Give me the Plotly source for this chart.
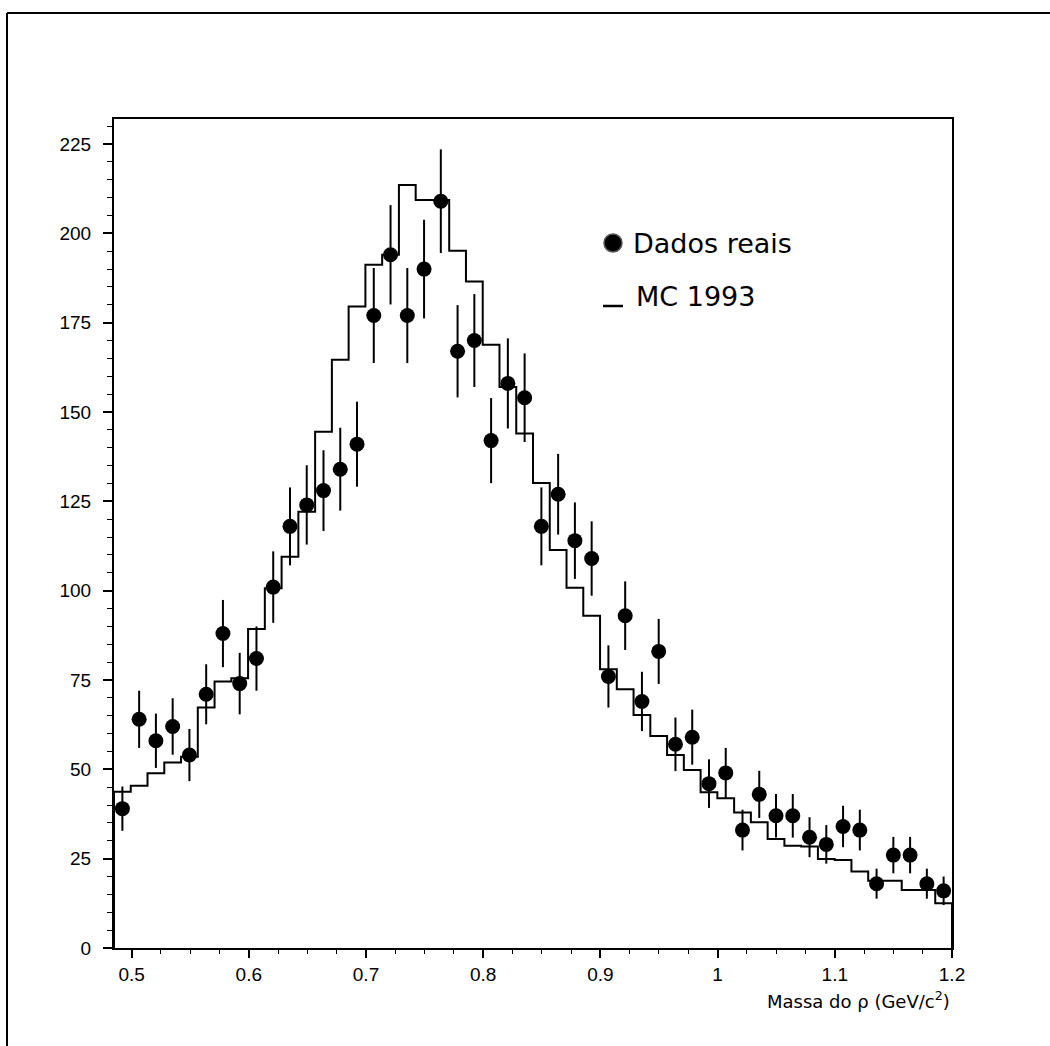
import numpy as np
import plotly.graph_objects as go

# ---- data ----
x_min, x_max, n_bins = 0.485, 1.2, 50

data_counts = [39, 64, 58, 62, 54, 71, 88, 74, 81, 101,
               118, 124, 128, 134, 141, 177, 194, 177, 190, 209,
               167, 170, 142, 158, 154, 118, 127, 114, 109, 76,
               93, 69, 83, 57, 59, 46, 49, 33, 43, 37,
               37, 31, 29, 34, 33, 18, 26, 26, 18, 16]

data_errors = [6.2, 8.0, 7.6, 7.9, 7.3, 8.4, 9.4, 8.6, 9.0, 10.0,
               10.9, 11.1, 11.3, 11.6, 11.9, 13.3, 13.9, 13.3, 13.8, 14.5,
               12.9, 13.0, 11.9, 12.6, 12.4, 10.9, 11.3, 10.7, 10.4, 8.7,
               9.6, 8.3, 9.1, 7.5, 7.7, 6.8, 7.0, 5.7, 6.6, 6.1,
               6.1, 5.6, 5.4, 5.8, 5.7, 4.2, 5.1, 5.1, 4.2, 4.0]

mc_counts = [43.7, 45.4, 48.9, 51.9, 53.5, 67.3, 74.6, 75.5, 89.3, 100.7,
             109.5, 122.1, 144.5, 164.6, 179.5, 191.2, 194.0, 213.5, 209.3, 209.3,
             195.1, 186.5, 168.8, 157.0, 144.0, 130.1, 111.4, 100.8, 93.0, 78.0,
             72.4, 65.2, 59.3, 54.0, 49.8, 43.6, 41.9, 37.9, 35.2, 30.5,
             28.6, 28.4, 24.9, 24.6, 21.4, 18.8, 18.8, 16.2, 16.2, 12.5]

x_tickvals = [0.5, 0.6, 0.7, 0.8, 0.9, 1.0, 1.1, 1.2]
x_ticktext = ["0.5", "0.6", "0.7", "0.8", "0.9", "1", "1.1", "1.2"]
y_tickvals = [0, 25, 50, 75, 100, 125, 150, 175, 200, 225]

legend_data = "Dados reais"
legend_mc = "MC 1993"
x_title = "Massa do ρ (GeV/c<sup>2</sup>)"

# ---- derived ----
edges = np.linspace(x_min, x_max, n_bins + 1)
centers = 0.5 * (edges[:-1] + edges[1:])
step_x = np.concatenate([[edges[0]], edges, [edges[-1]]])
step_y = np.concatenate([[0], mc_counts, [mc_counts[-1]], [0]])

fig = go.Figure()

fig.add_trace(go.Scatter(
    x=step_x, y=step_y, mode="lines", line_shape="hv",
    line=dict(color="black", width=2), showlegend=False, hoverinfo="skip"))

fig.add_trace(go.Scatter(
    x=centers, y=data_counts, mode="markers",
    marker=dict(color="black", size=15, line=dict(width=0)),
    error_y=dict(type="data", array=data_errors, visible=True,
                 color="black", thickness=2, width=0),
    showlegend=False))

# plot area in pixels: x 114..952, y 119..948
L, R, T, B = 114, 952, 119, 948
def px(x):
    return (x - L) / (R - L)
def py(y):
    return (B - y) / (B - T)

shapes = [
    # outer page frame (partially visible)
    dict(type="line", xref="paper", yref="paper", x0=px(7), x1=px(1060),
         y0=py(13), y1=py(13), line=dict(color="black", width=2)),
    dict(type="line", xref="paper", yref="paper", x0=px(7), x1=px(7),
         y0=py(13), y1=py(1060), line=dict(color="black", width=2)),
    # legend symbols
    dict(type="circle", xref="paper", yref="paper", xsizemode="pixel", ysizemode="pixel",
         xanchor=px(613), yanchor=py(243), x0=-9, x1=9, y0=-9, y1=9,
         fillcolor="black", line=dict(color="#555555", width=1.5)),
    dict(type="line", xref="paper", yref="paper", x0=px(603), x1=px(623),
         y0=py(306), y1=py(306), line=dict(color="black", width=2.5)),
]

annotations = [
    dict(text=legend_data, xref="paper", yref="paper", x=px(631), y=py(243),
         xanchor="left", yanchor="middle", showarrow=False,
         font=dict(family="DejaVu Sans", size=27, color="black")),
    dict(text=legend_mc, xref="paper", yref="paper", x=px(634), y=py(296),
         xanchor="left", yanchor="middle", showarrow=False,
         font=dict(family="DejaVu Sans", size=27, color="black")),
    dict(text=x_title, xref="paper", yref="paper", x=1.0, y=py(1000),
         xanchor="right", yanchor="middle", showarrow=False,
         font=dict(family="DejaVu Sans", size=18, color="black")),
]

fig.update_layout(
    width=1050, height=1046, autosize=False,
    margin=dict(l=L, r=1050 - R, t=T, b=1046 - B, pad=0),
    paper_bgcolor="white", plot_bgcolor="white",
    font=dict(family="Liberation Sans, Arial, sans-serif", size=19, color="black"),
    shapes=shapes, annotations=annotations, showlegend=False,
)

fig.update_xaxes(
    range=[x_min, x_max], tickvals=x_tickvals, ticktext=x_ticktext,
    ticks="outside", ticklen=8, tickwidth=1.5, tickcolor="black",
    minor=dict(tick0=0.5, dtick=0.025, ticks="outside", ticklen=4, tickwidth=1.2, tickcolor="black"),
    showgrid=False, zeroline=False, showline=True, linewidth=2, linecolor="black", mirror=True,
    tickfont=dict(size=19),
)
fig.update_yaxes(
    range=[0, 232], tickvals=y_tickvals,
    ticks="outside", ticklen=9, tickwidth=1.5, tickcolor="black",
    minor=dict(tick0=0, dtick=5, ticks="outside", ticklen=5, tickwidth=1.2, tickcolor="black"),
    showgrid=False, zeroline=False, showline=True, linewidth=2, linecolor="black", mirror=True,
    tickfont=dict(size=19), ticklabelstandoff=8,
)

fig.write_html("out.html")
